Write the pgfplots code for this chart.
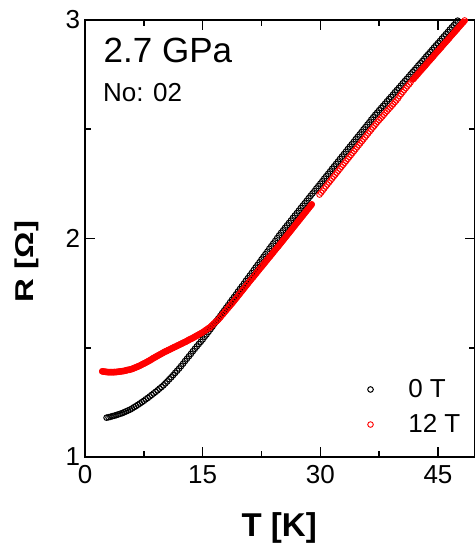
\documentclass[border=0pt]{standalone}
\usepackage{fontspec}
\setmainfont{Liberation Sans}
\usepackage{pgfplots}
\usepackage{pgfplotstable}
\pgfplotsset{compat=1.18}
\usepackage{graphicx}
\pgfplotstableread[row sep=\\]{
T R\\
2.75 1.180\\ 3.00 1.182\\ 3.25 1.184\\ 3.50 1.187\\ 3.75 1.189\\ 4.00 1.192\\ 4.25 1.195\\ 4.50 1.198\\ 4.75 1.201\\
5.00 1.205\\ 5.25 1.209\\ 5.50 1.213\\ 5.75 1.217\\ 6.00 1.222\\ 6.25 1.228\\ 6.50 1.233\\ 6.75 1.239\\ 7.00 1.245\\
7.25 1.251\\ 7.50 1.257\\ 7.75 1.264\\ 8.00 1.270\\ 8.25 1.277\\ 8.50 1.284\\ 8.75 1.291\\ 9.00 1.298\\ 9.25 1.305\\
9.50 1.313\\ 9.75 1.320\\ 10.00 1.328\\ 10.25 1.337\\ 10.50 1.346\\ 10.75 1.356\\ 11.00 1.365\\ 11.25 1.375\\
11.50 1.385\\ 11.75 1.395\\ 12.00 1.405\\ 12.25 1.416\\ 12.50 1.427\\ 12.75 1.439\\ 13.00 1.450\\ 13.25 1.461\\
13.50 1.472\\ 13.75 1.484\\ 14.00 1.495\\ 14.25 1.506\\ 14.50 1.517\\ 14.75 1.527\\ 15.00 1.538\\ 15.25 1.550\\
15.50 1.561\\ 15.75 1.573\\ 16.00 1.585\\ 16.25 1.597\\ 16.50 1.610\\ 16.75 1.622\\ 17.00 1.634\\ 17.25 1.646\\
17.50 1.659\\ 17.75 1.671\\ 18.00 1.683\\ 18.25 1.695\\ 18.50 1.708\\ 18.75 1.720\\ 19.00 1.732\\ 19.25 1.744\\
19.50 1.757\\ 19.75 1.769\\ 20.00 1.781\\ 20.25 1.793\\ 20.50 1.806\\ 20.75 1.818\\ 21.00 1.830\\ 21.25 1.842\\
21.50 1.855\\ 21.75 1.867\\ 22.00 1.879\\ 22.25 1.891\\ 22.50 1.904\\ 22.75 1.916\\ 23.00 1.928\\ 23.25 1.940\\
23.50 1.953\\ 23.75 1.965\\ 24.00 1.977\\ 24.25 1.989\\ 24.50 2.002\\ 24.75 2.014\\ 25.00 2.026\\ 25.25 2.037\\
25.50 2.049\\ 25.75 2.060\\ 26.00 2.071\\ 26.25 2.082\\ 26.50 2.094\\ 26.75 2.105\\ 27.00 2.116\\ 27.25 2.127\\
27.50 2.139\\ 27.75 2.150\\ 28.00 2.161\\ 28.25 2.172\\ 28.50 2.184\\ 28.75 2.195\\ 29.00 2.206\\ 29.25 2.217\\
29.50 2.229\\ 29.75 2.240\\ 30.00 2.251\\ 30.25 2.262\\ 30.50 2.274\\ 30.75 2.285\\ 31.00 2.296\\ 31.25 2.307\\
31.50 2.319\\ 31.75 2.330\\ 32.00 2.341\\ 32.25 2.352\\ 32.50 2.364\\ 32.75 2.375\\ 33.00 2.386\\ 33.25 2.397\\
33.50 2.409\\ 33.75 2.420\\ 34.00 2.431\\ 34.25 2.442\\ 34.50 2.454\\ 34.75 2.465\\ 35.00 2.476\\ 35.25 2.487\\
35.50 2.499\\ 35.75 2.510\\ 36.00 2.521\\ 36.25 2.532\\ 36.50 2.544\\ 36.75 2.555\\ 37.00 2.566\\ 37.25 2.576\\
37.50 2.587\\ 37.75 2.597\\ 38.00 2.607\\ 38.25 2.617\\ 38.50 2.628\\ 38.75 2.638\\ 39.00 2.648\\ 39.25 2.658\\
39.50 2.669\\ 39.75 2.679\\ 40.00 2.689\\ 40.25 2.699\\ 40.50 2.710\\ 40.75 2.720\\ 41.00 2.730\\ 41.25 2.740\\
41.50 2.751\\ 41.75 2.761\\ 42.00 2.771\\ 42.25 2.781\\ 42.50 2.792\\ 42.75 2.802\\ 43.00 2.812\\ 43.25 2.822\\
43.50 2.833\\ 43.75 2.843\\ 44.00 2.853\\ 44.25 2.863\\ 44.50 2.874\\ 44.75 2.884\\ 45.00 2.894\\ 45.25 2.904\\
45.50 2.915\\ 45.75 2.925\\ 46.00 2.935\\ 46.25 2.945\\ 46.50 2.956\\ 46.75 2.966\\ 47.00 2.976\\ 47.25 2.986\\
47.50 2.997\\
}\zeroT
\pgfplotstableread[row sep=\\]{
T R\\
2.2 1.392\\ 2.4 1.391\\ 2.6 1.390\\ 2.8 1.389\\ 3.0 1.388\\ 3.2 1.388\\ 3.4 1.388\\ 3.6 1.388\\ 3.8 1.389\\ 4.0 1.389\\
4.2 1.390\\ 4.4 1.391\\ 4.6 1.392\\ 4.8 1.393\\ 5.0 1.394\\ 5.2 1.396\\ 5.4 1.398\\ 5.6 1.399\\ 5.8 1.401\\ 6.0 1.403\\
6.2 1.406\\ 6.4 1.409\\ 6.6 1.412\\ 6.8 1.415\\ 7.0 1.418\\ 7.2 1.422\\ 7.4 1.426\\ 7.6 1.429\\ 7.8 1.433\\ 8.0 1.437\\
8.2 1.441\\ 8.4 1.445\\ 8.6 1.450\\ 8.8 1.454\\ 9.0 1.458\\ 9.2 1.462\\ 9.4 1.466\\ 9.6 1.470\\ 9.8 1.474\\ 10.0 1.478\\
10.2 1.482\\ 10.4 1.485\\ 10.6 1.489\\ 10.8 1.492\\ 11.0 1.496\\ 11.2 1.499\\ 11.4 1.503\\ 11.6 1.506\\ 11.8 1.510\\
12.0 1.513\\ 12.2 1.517\\ 12.4 1.520\\ 12.6 1.524\\ 12.8 1.527\\ 13.0 1.531\\ 13.2 1.535\\ 13.4 1.539\\ 13.6 1.542\\
13.8 1.546\\ 14.0 1.550\\ 14.2 1.554\\ 14.4 1.558\\ 14.6 1.562\\ 14.8 1.566\\ 15.0 1.570\\ 15.2 1.575\\ 15.4 1.580\\
15.6 1.585\\ 15.8 1.590\\ 16.0 1.595\\ 16.2 1.602\\ 16.4 1.609\\ 16.6 1.616\\ 16.8 1.623\\ 17.0 1.630\\ 17.2 1.638\\
17.4 1.647\\ 17.6 1.655\\ 17.8 1.664\\ 18.0 1.672\\ 18.2 1.681\\ 18.4 1.689\\ 18.6 1.698\\ 18.8 1.706\\ 19.0 1.715\\
19.2 1.724\\ 19.4 1.733\\ 19.6 1.742\\ 19.8 1.751\\ 20.0 1.760\\ 20.2 1.769\\ 20.4 1.778\\ 20.6 1.787\\ 20.8 1.796\\
21.0 1.805\\ 21.2 1.814\\ 21.4 1.822\\ 21.6 1.831\\ 21.8 1.840\\ 22.0 1.849\\ 22.2 1.858\\ 22.4 1.867\\ 22.6 1.875\\
22.8 1.884\\ 23.0 1.893\\ 23.2 1.902\\ 23.4 1.911\\ 23.6 1.919\\ 23.8 1.928\\ 24.0 1.937\\ 24.2 1.946\\ 24.4 1.955\\
24.6 1.963\\ 24.8 1.972\\ 25.0 1.981\\ 25.2 1.990\\ 25.4 1.999\\ 25.6 2.008\\ 25.8 2.017\\ 26.0 2.026\\ 26.2 2.035\\
26.4 2.044\\ 26.6 2.053\\ 26.8 2.062\\ 27.0 2.071\\ 27.2 2.080\\ 27.4 2.089\\ 27.6 2.098\\ 27.8 2.107\\ 28.0 2.116\\
28.2 2.125\\ 28.4 2.134\\ 28.6 2.143\\ 28.8 2.152\\ 28.9 2.156\\
}\twelveTa
\pgfplotstableread[row sep=\\]{
T R\\
29.9 2.201\\ 30.1 2.210\\ 30.3 2.219\\ 30.5 2.229\\ 30.7 2.238\\ 30.9 2.247\\ 31.1 2.256\\ 31.3 2.265\\ 31.5 2.274\\
31.7 2.283\\ 31.9 2.292\\ 32.1 2.301\\ 32.3 2.310\\ 32.5 2.319\\ 32.7 2.328\\ 32.9 2.337\\ 33.1 2.346\\ 33.3 2.355\\
33.5 2.364\\ 33.7 2.373\\ 33.9 2.382\\ 34.1 2.391\\ 34.3 2.400\\ 34.5 2.409\\ 34.7 2.418\\ 34.9 2.427\\ 35.1 2.436\\
35.3 2.445\\ 35.5 2.454\\ 35.7 2.463\\ 35.9 2.472\\ 36.1 2.481\\ 36.3 2.490\\ 36.5 2.499\\ 36.7 2.508\\ 36.9 2.516\\
37.1 2.525\\ 37.3 2.534\\ 37.5 2.542\\ 37.7 2.550\\ 37.9 2.558\\ 38.1 2.566\\ 38.3 2.575\\ 38.5 2.583\\ 38.7 2.591\\
38.9 2.599\\ 39.1 2.607\\ 39.3 2.615\\ 39.5 2.624\\ 39.7 2.632\\ 39.9 2.641\\ 40.1 2.652\\ 40.3 2.661\\ 40.5 2.670\\
40.7 2.679\\ 40.9 2.688\\ 41.1 2.697\\ 41.3 2.705\\ 41.5 2.714\\
}\twelveTb
\pgfplotstableread[row sep=\\]{
T R\\
41.8 2.728\\ 42.0 2.736\\ 42.2 2.744\\ 42.4 2.752\\ 42.6 2.761\\ 42.8 2.769\\ 43.0 2.777\\ 43.2 2.785\\ 43.4 2.793\\
43.6 2.802\\ 43.8 2.810\\ 44.0 2.818\\ 44.2 2.826\\ 44.4 2.834\\ 44.6 2.843\\ 44.8 2.851\\ 45.0 2.859\\ 45.2 2.867\\
45.4 2.875\\ 45.6 2.884\\ 45.8 2.892\\ 46.0 2.900\\ 46.2 2.908\\ 46.4 2.916\\ 46.6 2.925\\ 46.8 2.933\\ 47.0 2.941\\
47.2 2.949\\ 47.4 2.957\\ 47.6 2.966\\ 47.8 2.974\\ 48.0 2.982\\ 48.2 2.990\\ 48.4 2.998\\
}\twelveTc
\begin{document}
\begin{tikzpicture}
\useasboundingbox (0,0) rectangle (474pt,553pt);
\begin{axis}[
  at={(85pt,96pt)}, anchor=south west,
  scale only axis, width=390pt, height=437pt,
  xmin=0, xmax=49.72, ymin=1, ymax=3,
  xtick={0,15,30,45}, minor xtick={7.5,22.5,37.5},
  ytick={1,2,3}, minor ytick={1.5,2.5},
  tick align=inside, major tick length=10pt, minor tick length=6pt,
  axis line style={line width=1.8pt},
  every tick/.style={line width=1.6pt, black},
  /pgf/number format/assume math mode=true,
  tick label style={font=\fontsize{26}{30}\selectfont},
  xticklabel style={yshift=-5pt},
  yticklabel style={xshift=-1.3pt},
  xlabel={\bfseries T [K]},
  xlabel style={at={(axis description cs:0.498,-0.183)}, anchor=base, font=\fontsize{33}{38}\selectfont},
  ylabel={\scalebox{1}[0.78]{\bfseries R [Ω]}},
  ylabel style={at={(axis description cs:-0.1326,0.4469)}, anchor=base, font=\fontsize{33}{38}\selectfont},
  legend style={draw=none, fill=none, at={(axis description cs:0.7244,0.1144)}, anchor=west,
    inner sep=0pt, nodes={inner sep=0pt}, row sep=15.4pt, font=\fontsize{26}{30}\selectfont,
    /tikz/every odd column/.append style={column sep=35pt}},
  legend cell align=left,
  legend image code/.code={\draw[mark repeat=2,mark phase=2,#1] plot coordinates {(0pt,0pt)(0pt,0pt)(0pt,0pt)};},
]
\addplot[only marks, mark=o, mark size=2.8pt, mark options={line width=1pt, draw=black}] table[x=T,y=R] {\zeroT};
\addlegendentry{0 T}
\addplot[forget plot, red, line width=6.5pt, line cap=round, line join=round] table[x=T,y=R] {\twelveTa};
\addplot[forget plot, red, line width=6.5pt, line cap=round, line join=round] table[x=T,y=R] {\twelveTc};
\addplot[only marks, mark=o, mark size=2.8pt, mark options={line width=0.9pt, draw=red}] table[x=T,y=R] {\twelveTa};
\addlegendentry{12 T}
\addplot[forget plot, only marks, mark=o, mark size=2.8pt, mark options={line width=0.9pt, draw=red}] table[x=T,y=R] {\twelveTb};
\addplot[forget plot, only marks, mark=o, mark size=2.8pt, mark options={line width=0.9pt, draw=red}] table[x=T,y=R] {\twelveTc};
\node[anchor=base west, inner sep=0pt, font=\fontsize{35}{40}\selectfont] at (axis description cs:0.0474,0.9016) {2.7 GPa};
\node[anchor=base west, inner sep=0pt, font=\fontsize{26}{30}\selectfont] at (axis description cs:0.046,0.8124) {No: 02};
\end{axis}
\end{tikzpicture}
\end{document}
